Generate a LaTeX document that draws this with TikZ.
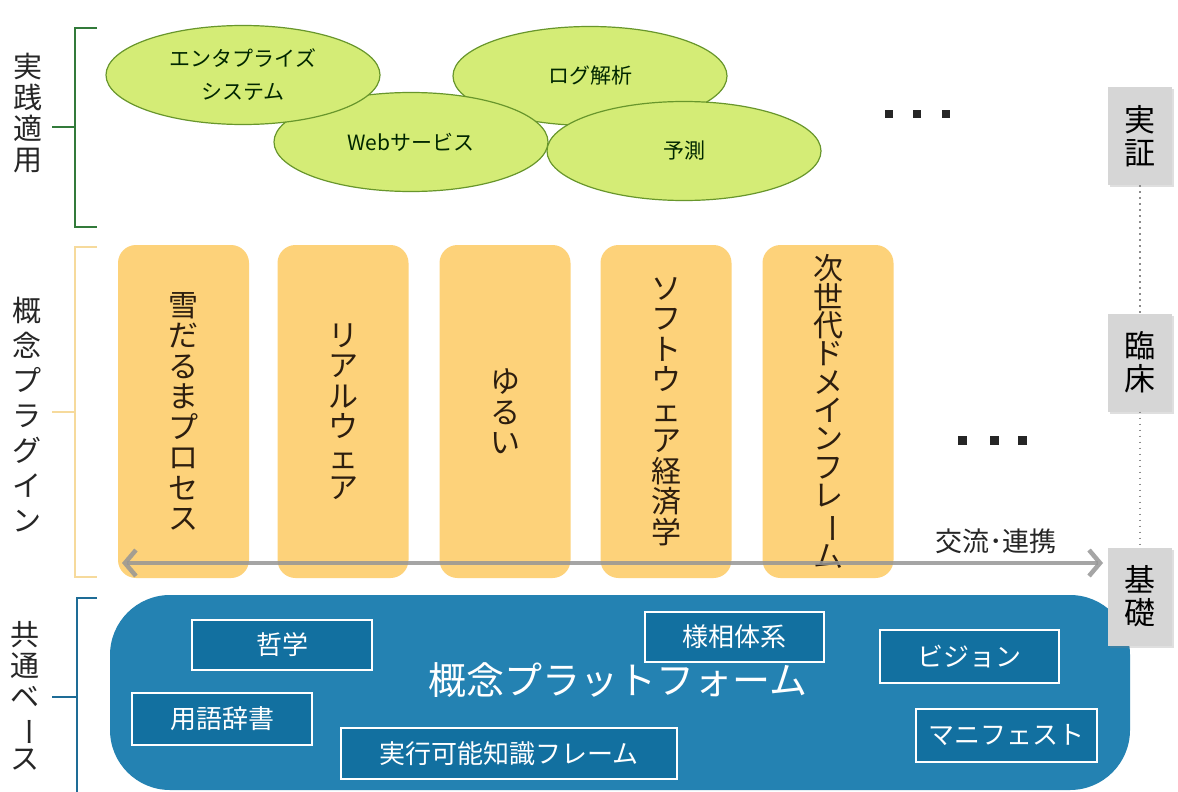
\documentclass[tikz,border=0pt]{standalone}
\usepackage{fontspec}
\usepackage{graphicx}
\usetikzlibrary{shapes.geometric,arrows.meta,shadows}
\newfontfamily\jp{Noto Sans CJK JP}
\newfontfamily\vjp{Noto Sans CJK JP}
\newcommand\fsz[2]{\fontsize{#1}{#2}\selectfont}
\newcommand\vchoon{\rotatebox[origin=c]{-90}{ー}}
\definecolor{ellfill}{RGB}{212,236,118}
\definecolor{elldraw}{RGB}{104,150,44}
\definecolor{ortext}{RGB}{45,30,15}
\definecolor{orfill}{RGB}{253,210,122}
\definecolor{orbr}{RGB}{246,218,156}
\definecolor{grbr}{RGB}{50,122,58}
\definecolor{blbr}{RGB}{30,108,150}
\definecolor{platfill}{RGB}{36,130,178}
\definecolor{boxfill}{RGB}{18,112,160}
\definecolor{grayfill}{RGB}{214,214,214}
\definecolor{arrowgray}{RGB}{150,150,150}
\tikzset{
  ell/.style={ellipse, draw=elldraw, line width=1.2pt, fill=ellfill, minimum width=274pt, minimum height=99pt, inner sep=0pt, align=center, text=black!85!green, font=\jp\fsz{21}{33}},
  obox/.style={rounded corners=18pt, fill=orfill, minimum width=131pt, minimum height=333pt, inner sep=0pt, align=center, text=ortext, font=\vjp\fsz{30}{#1}},
  obox/.default=30.5,
  sidelbl/.style={align=center, inner sep=0pt, text=black!85, font=\vjp\fsz{29}{#1}},
  platform/.style={rounded corners=60pt, fill=platfill, minimum width=1020pt, minimum height=195pt, inner sep=0pt},
  wbox/.style={draw=white, line width=2pt, fill=boxfill, inner sep=0pt, text=white, font=\jp\fsz{26}{30}},
  gbox/.style={fill=grayfill, minimum width=64pt, minimum height=98pt, inner sep=0pt, align=center, font=\vjp\fsz{31}{33}, drop shadow={shadow xshift=2pt, shadow yshift=-2pt, opacity=0.25}},
  dotline/.style={draw=black!45, line width=1.3pt, dash pattern=on 1.3pt off 4.7pt},
  garrow/.style={draw=arrowgray, draw opacity=0.85, line width=4.5pt, {Straight Barb[length=11pt,width=26pt]}-{Straight Barb[length=11pt,width=26pt]}},
  brk/.style={line width=2.6pt},
  sq/.style={fill=black!85}
}
\begin{document}
\begin{tikzpicture}[x=1pt,y=-1pt]
\useasboundingbox (0,0) rectangle (1178,792);
\fill[white] (0,0) rectangle (1178,792);

% left labels
\node[sidelbl=31] (lbl1) at (28,113) {実\\践\\適\\用};
\node[sidelbl=35] (lbl2) at (27,415) {概\\念\\プ\\ラ\\グ\\イ\\ン};
\node[sidelbl=31] (lbl3) at (25,696) {共\\通\\ベ\\\vchoon\\ス};

% brackets
\draw[brk, grbr] (97,28) -- (75,28) -- (75,227) -- (97,227);
\draw[brk, grbr] (52,127) -- (75,127);
\draw[brk, orbr] (97,247) -- (75,247) -- (75,577) -- (97,577);
\draw[brk, orbr] (52,412) -- (75,412);
\draw[brk, blbr] (97,598) -- (77,598) -- (77,792);
\draw[brk, blbr] (52,697) -- (77,697);

% ellipses
\node[ell] (log) at (590,76) {ログ解析};
\node[ell] (web) at (411,142) {Webサービス};
\node[ell] (ent) at (243,75) {エンタプライズ\\システム};
\node[ell] (pred) at (684,151) {予測};

% dots
\fill[sq] (885,110) rectangle ++(8,8);
\fill[sq] (913,110) rectangle ++(8,8);
\fill[sq] (942,110) rectangle ++(8,8);
\fill[sq] (958,436) rectangle ++(9,9);
\fill[sq] (990,436) rectangle ++(9,9);
\fill[sq] (1018,436) rectangle ++(9,9);

% plug-in boxes
\node[obox] (p1) at (183.5,411.5) {雪\\だ\\る\\ま\\プ\\ロ\\セ\\ス};
\node[obox] (p2) at (343,411.5) {リ\\ア\\ル\\ウ\\ェ\\ア};
\node[obox] (p3) at (505,411.5) {ゆ\\る\\い};
\node[obox] (p4) at (666,411.5) {ソ\\フ\\ト\\ウ\\ェ\\ア\\経\\済\\学};
\node[obox=28.3] (p5) at (828,411.5) {次\\世\\代\\ド\\メ\\イ\\ン\\フ\\レ\\\vchoon\\ム};

% exchange arrow
\coordinate (aL) at (122,563);
\coordinate (aR) at (1103,563);
\draw[garrow] (aL) -- (aR);
\node[font=\jp\fsz{27}{30}, text=black!85, inner sep=0pt] (kl) at (996,541) {交流･連携};

% platform
\node[platform] (plat) at (620,692.5) {};
\node[font=\jp\fsz{38}{40}, text=white, inner sep=0pt] (pltxt) at (618,680) {概念プラットフォーム};
\node[wbox, minimum width=180pt, minimum height=50pt] (b1) at (282,645) {哲学};
\node[wbox, minimum width=180pt, minimum height=52pt] (b2) at (222,719) {用語辞書};
\node[wbox, minimum width=336pt, minimum height=51pt] (b3) at (509,753.5) {実行可能知識フレーム};
\node[wbox, minimum width=179pt, minimum height=50pt] (b4) at (734.5,637) {様相体系};
\node[wbox, minimum width=179pt, minimum height=53pt] (b5) at (969.5,656.5) {ビジョン};
\node[wbox, minimum width=181pt, minimum height=53pt] (b6) at (1006.5,735.5) {マニフェスト};

% right column
\node[gbox] (jissho) at (1140,136) {実\\証};
\node[gbox] (rinsho) at (1140,362.5) {臨\\床};
\node[gbox] (kiso) at (1140,596.5) {基\\礎};
\draw[dotline] (jissho.south) -- (rinsho.north);
\draw[dotline] (rinsho.south) -- (kiso.north);
\end{tikzpicture}
\end{document}
